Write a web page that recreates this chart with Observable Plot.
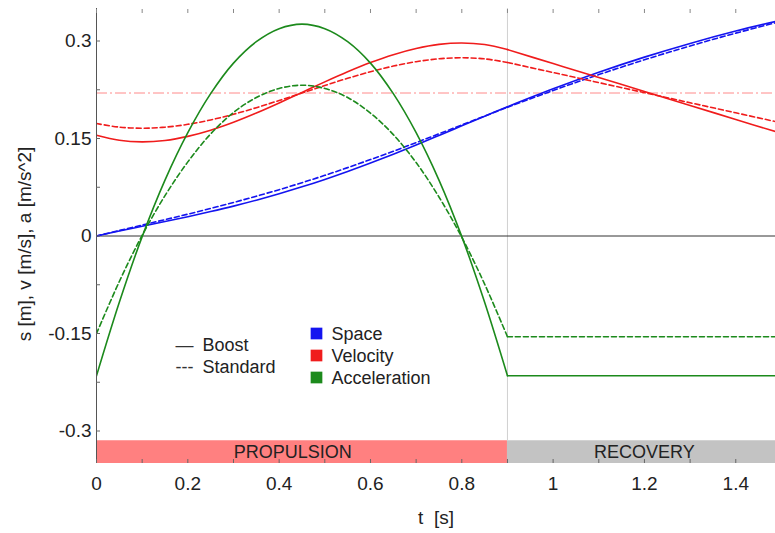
<!DOCTYPE html>
<html><head><meta charset="utf-8">
<script src="https://cdn.jsdelivr.net/npm/d3@7"></script>
<script src="https://cdn.jsdelivr.net/npm/@observablehq/plot@0.6"></script>
<style>
body{margin:0;background:#fff;}
#chart svg{display:block;}
</style>
</head><body><div id="chart"></div>
<script>
// time samples (s)
const tProp = [0,0.05,0.1,0.15,0.2,0.25,0.3,0.35,0.4,0.45,0.5,0.55,0.6,0.65,0.7,0.75,0.8,0.85,0.9];
const tRec  = [0.9,1.0,1.1,1.2,1.3,1.4,1.5];

// Space s [m]
const spaceBoostProp = [0,0.0076,0.0149,0.0222,0.0297,0.0376,0.0460,0.0551,0.0650,0.0756,0.0871,0.0993,0.1123,0.1259,0.1401,0.1547,0.1695,0.1843,0.1988];
const spaceBoostRec  = [0.1988,0.2264,0.2519,0.2752,0.2963,0.3153,0.3322];
const spaceStdProp   = [0,0.0085,0.0168,0.0252,0.0336,0.0424,0.0516,0.0612,0.0713,0.0820,0.0933,0.1052,0.1176,0.1304,0.1437,0.1572,0.1709,0.1845,0.1980];
const spaceStdRec    = [0.1980,0.2239,0.2483,0.2711,0.2924,0.3121,0.3303];

// Velocity v [m/s]
const velBoostProp = [0.155,0.1472,0.1448,0.1470,0.1533,0.1628,0.1750,0.1892,0.2047,0.2209,0.2371,0.2526,0.2668,0.2790,0.2885,0.2948,0.2970,0.2945,0.2868];
const velBoostRec  = [0.2868,0.2653,0.2438,0.2223,0.2008,0.1793,0.1578];
const velStdProp   = [0.173,0.1675,0.1658,0.1674,0.1718,0.1786,0.1873,0.1974,0.2085,0.2200,0.2315,0.2426,0.2527,0.2614,0.2682,0.2726,0.2742,0.2725,0.2670];
const velStdRec    = [0.2670,0.2515,0.2360,0.2205,0.2050,0.1895,0.1740];
const velMean = [0.22];

// Acceleration a [m/s^2]
const accBoostProp = [-0.215,-0.102,-0.001,0.086,0.159,0.219,0.266,0.299,0.319,0.326,0.319,0.299,0.266,0.219,0.159,0.086,-0.001,-0.102,-0.215];
const accBoostRec  = [-0.215,-0.215,-0.215,-0.215,-0.215,-0.215,-0.215];
const accStdProp   = [-0.150,-0.070,0.001,0.062,0.114,0.157,0.190,0.213,0.227,0.232,0.227,0.213,0.189,0.156,0.113,0.060,-0.002,-0.074,-0.155];
const accStdRec    = [-0.155,-0.155,-0.155,-0.155,-0.155,-0.155,-0.155];

// phases
const phaseNames = ["PROPULSION","RECOVERY"];
const phaseStart = [0,0.9];
const phaseEnd   = [0.9,1.5];
const phaseLabelX = [0.43,1.2];
const phaseColors = ["#ff8080","#c3c3c3"];

// ticks
const xTickLabels = [0,0.2,0.4,0.6,0.8,1,1.2,1.4];
const xMinorTicks = [0,0.1,0.2,0.3,0.4,0.5,0.6,0.7,0.8,0.9,1.0,1.1,1.2,1.3,1.4];
const yTickLabels = [-0.3,-0.15,0,0.15,0.3];
const yMinorTicks = [-0.3,-0.225,-0.15,-0.075,0,0.075,0.15,0.225,0.3];

const seriesNames = ["Space","Velocity","Acceleration"];
const seriesColors = ["#1414f0","#f01c1c","#1c8a1c"];
const styleNames = ["Boost","Standard"];
const styleGlyphs = ["\u2014","---"];
const yLabel = "s [m], v [m/s], a [m/s^2]";

const rows = (ts, ys) => ts.map((t,i) => ({t, y: ys[i]}));
const phases = phaseNames.map((n,i)=>({name:n, x1:phaseStart[i], x2:phaseEnd[i], lx:phaseLabelX[i], fill:phaseColors[i]}));

const FONT = "'Liberation Sans', Arial, sans-serif";
const dashStd = "5,3";

function curveMarks(prop, rec, color, dashed){
  const o = {x:"t", y:"y", stroke: color, strokeWidth: 1.6, clip: true};
  if (dashed) o.strokeDasharray = dashStd;
  return [
    Plot.line(prop, {...o, curve:"catmull-rom"}),
    Plot.line(rec, {...o, curve:"catmull-rom"})
  ];
}

const chart = Plot.plot({
  width: 775,
  height: 533,
  marginLeft: 96,
  marginRight: 0,
  marginTop: 8,
  marginBottom: 70,
  style: {fontFamily: FONT, fontSize: "19px", color: "#222", background: "#fff"},
  x: {domain: [0, 1.487]},
  y: {domain: [-0.35, 0.35]},
  marks: [
    // phase band
    Plot.rect(phases, {x1:"x1", x2:"x2", y1:-0.35, y2:-0.315, fill:"fill", clip:true}),
    Plot.text(phases, {x:"lx", y:-0.3325, text:"name", fontSize:18, fill:"#222"}),
    // vertical phase divider
    Plot.ruleX([phaseEnd[0]], {y1:-0.315, y2:0.35, stroke:"#d0d0d0", strokeWidth:1}),
    // zero line
    Plot.ruleY([0], {stroke:"#333", strokeWidth:1}),
    // mean velocity
    Plot.ruleY(velMean, {stroke:"#ff8a8a", strokeWidth:1, strokeDasharray:"11,3,2,3"}),
    // curves
    ...curveMarks(rows(tProp, spaceBoostProp), rows(tRec, spaceBoostRec), seriesColors[0], false),
    ...curveMarks(rows(tProp, spaceStdProp), rows(tRec, spaceStdRec), seriesColors[0], true),
    ...curveMarks(rows(tProp, velBoostProp), rows(tRec, velBoostRec), seriesColors[1], false),
    ...curveMarks(rows(tProp, velStdProp), rows(tRec, velStdRec), seriesColors[1], true),
    ...curveMarks(rows(tProp, accBoostProp), rows(tRec, accBoostRec), seriesColors[2], false),
    ...curveMarks(rows(tProp, accStdProp), rows(tRec, accStdRec), seriesColors[2], true),
    // left axis line
    Plot.ruleX([0], {stroke:"#555", strokeWidth:1}),
    // axes
    Plot.axisY({ticks: yTickLabels, tickSize: 0, tickPadding: 5, fontSize: 19,
      tickFormat: d => String(d), label: null}),
    Plot.text([yLabel], {frameAnchor:"left", dx:-72, dy:8, rotate:-90, text:d=>d, textAnchor:"middle", lineAnchor:"middle", fontSize:19, fill:"#222"}),
    Plot.axisY({ticks: yMinorTicks, tickSize: -4, tickFormat: () => "", label: null, stroke:"#666"}),
    Plot.axisX({ticks: xTickLabels, tickSize: 0, tickPadding: 13, fontSize: 19,
      tickFormat: d => String(d), label: "t\u00a0\u00a0[s]", labelAnchor: "center",
      labelArrow: "none", labelOffset: 60}),
    Plot.axisX({anchor:"bottom", ticks: xMinorTicks, tickSize: -4, tickFormat: () => "", label: null, stroke:"#666"}),
    Plot.axisX({anchor:"top", ticks: xMinorTicks, tickSize: -4, tickFormat: () => "", label: null, stroke:"#888"}),
    // legend: line styles
    ...styleNames.map((n,i)=>Plot.text([styleGlyphs[i]], {frameAnchor:"top-left", dx:79, dy:337+22*i, text:d=>d, textAnchor:"start", fontSize:18, fill:"#333", lineAnchor:"middle"})),
    ...styleNames.map((n,i)=>Plot.text([n], {frameAnchor:"top-left", dx:106, dy:337+22*i, text:d=>d, textAnchor:"start", fontSize:18, fill:"#222", lineAnchor:"middle"})),
    // legend: series colours
    ...seriesNames.map((n,i)=>Plot.dot([n], {frameAnchor:"top-left", dx:220, dy:325+22*i, symbol:"square", r:6.6, fill:seriesColors[i], stroke:"none"})),
    ...seriesNames.map((n,i)=>Plot.text([n], {frameAnchor:"top-left", dx:235, dy:326+22*i, text:d=>d, textAnchor:"start", fontSize:18, fill:"#222", lineAnchor:"middle"}))
  ]
});
document.getElementById("chart").appendChild(chart);
</script>
</body></html>
